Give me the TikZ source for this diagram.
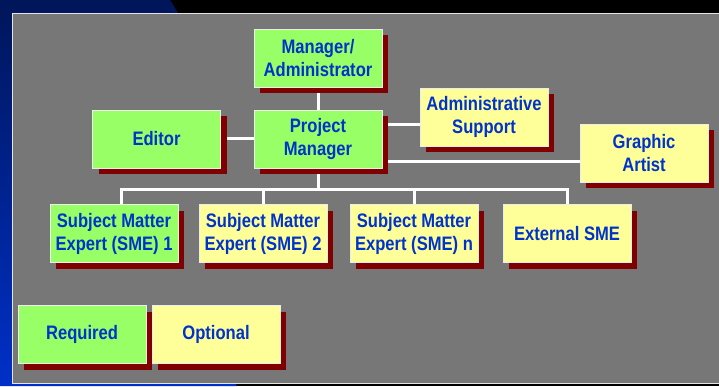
\documentclass[tikz,border=0pt]{standalone}
\usepackage{fontspec}
\setmainfont{Liberation Sans}
\newfontfamily\boxfont[FakeStretch=0.85]{Liberation Sans}
\usetikzlibrary{positioning,shadows}

\definecolor{panelgray}{RGB}{119,119,119}
\definecolor{reqgreen}{RGB}{153,255,102}
\definecolor{optyellow}{RGB}{255,255,153}
\definecolor{shadowred}{RGB}{128,0,0}
\definecolor{textblue}{RGB}{0,51,204}
\definecolor{edgeblue}{RGB}{0,48,200}

\pgfdeclarelayer{background}
\pgfsetlayers{background,main}

\tikzstyle{required} = [rectangle, minimum width=128pt, minimum height=58pt, inner sep=0pt, text centered, align=center, draw=white!85!gray, line width=0.8pt, fill=reqgreen, text=textblue, font=\boxfont\fontsize{19.5}{23}\selectfont\bfseries, drop shadow={shadow xshift=6pt, shadow yshift=-6pt, fill=shadowred, opacity=1}]
\tikzstyle{optional} = [required, fill=optyellow]
\tikzstyle{link} = [draw=white, line width=3pt]

\begin{document}
\begin{tikzpicture}[x=1pt, y=1pt, node distance=81pt]
        \useasboundingbox (0,0) rectangle (719,386);

        \node (Manager) [required] at (318,328) {Manager/\\Administrator};
        \node (Project Manager) [required, below of = Manager] {Project\\Manager};
        \node (Editor) [required, left of = Project Manager, xshift=-80.5pt] {Editor};
        \node (Admin Support) [optional, right of = Project Manager, xshift=85pt, yshift=22pt] {Administrative\\Support};
        \node (Graphic Artist) [optional, right of = Admin Support, xshift=79pt, yshift=-36pt] {Graphic\\Artist};
        \node (SME 2) [optional, below of = Project Manager, xshift=-55pt, yshift=-13.5pt] {Subject Matter\\Expert (SME) 2};
        \node (SME 1) [required, left of = SME 2, xshift=-68pt] {Subject Matter\\Expert (SME) 1};
        \node (SME n) [optional, right of = SME 2, xshift=70pt] {Subject Matter\\Expert (SME) n};
        \node (External SME) [optional, right of = SME n, xshift=72pt] {External SME};
        \node (Required) [required] at (82,51.5) {Required};
        \node (Optional) [optional, right of = Required, xshift=53pt] {Optional};

        \begin{pgfonlayer}{background}
            % slide backdrop
            \fill [black] (0,0) rectangle (719,386);
            \shade [top color=edgeblue!45!black, bottom color=edgeblue] (0,0) -- (0,386) -- (170,386) -- (178,373) -- (12,373) -- (12,3) -- (235,3) -- (237,0) -- cycle;
            \fill [panelgray, draw=white!80!gray, line width=0.8pt] (12,3) rectangle (719,373);

            \coordinate (Support Link) at ([yshift=-8pt]Admin Support.west);
            \coordinate (Artist Link) at ([yshift=-8pt]Graphic Artist.west);

            \draw [link] (Manager) -- (Project Manager);
            \draw [link] (Editor) -- (Project Manager);
            \draw [link] (Support Link) -- (Support Link -| Project Manager);
            \draw [link] (Artist Link) -- (Artist Link -| Project Manager);
            \draw [link] (Project Manager) -- ++(0,-50) coordinate (Bus);
            \draw [link] ([xshift=7pt]SME 1.north) |- (Bus);
            \draw [link] (SME 2.north) |- (Bus);
            \draw [link] (SME n.north) |- (Bus);
            \draw [link] (External SME.north) |- (Bus);
        \end{pgfonlayer}
    \end{tikzpicture}
\end{document}
